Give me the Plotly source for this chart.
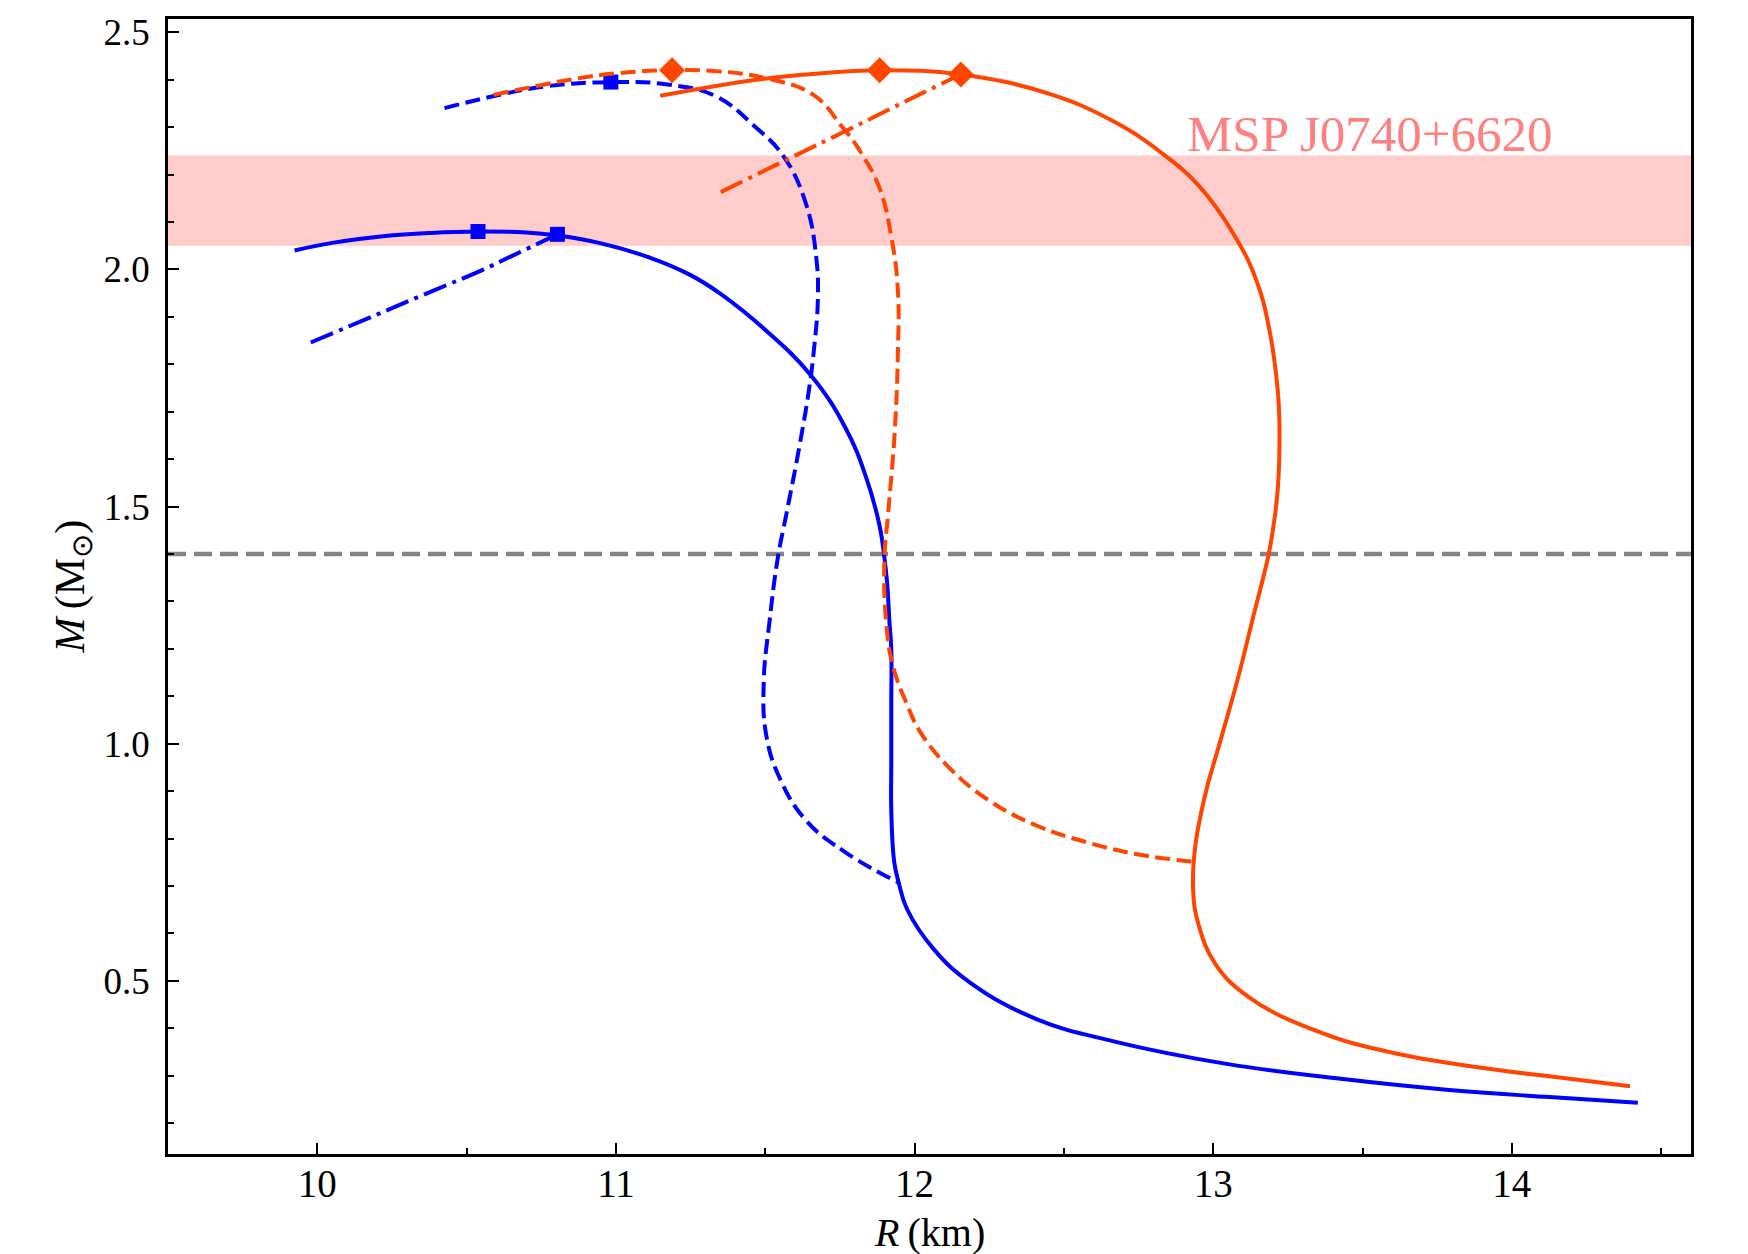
import plotly.graph_objects as go

# ---------------- data: mass-radius sequences (R in km, M in solar masses) ----------------
# blue family
blue_solid_R = [9.924, 10.05, 10.22, 10.38, 10.538, 10.70, 10.80, 10.95, 11.113, 11.25, 11.347,
                11.492, 11.654, 11.771, 11.838, 11.883, 11.899, 11.908, 11.916, 11.922, 11.922,
                11.922, 11.922, 11.932, 11.947, 11.975, 12.064, 12.187, 12.41, 12.67,
                13.045, 13.42, 13.79, 14.126, 14.422]
blue_solid_M = [2.040, 2.056, 2.070, 2.077, 2.080, 2.078, 2.072, 2.055, 2.025, 1.988, 1.950,
                1.877, 1.776, 1.663, 1.561, 1.459, 1.392, 1.340, 1.256, 1.200, 1.087,
                0.960, 0.860, 0.750, 0.707, 0.651, 0.567, 0.496, 0.419, 0.372,
                0.325, 0.294, 0.270, 0.255, 0.243]

blue_dash_R = [10.426, 10.588, 10.766, 10.983, 11.172, 11.335, 11.464, 11.562, 11.637, 11.671,
               11.676, 11.665, 11.648, 11.615, 11.570, 11.542, 11.514, 11.495, 11.503, 11.548,
               11.637, 11.771, 11.947]
blue_dash_M = [2.340, 2.365, 2.386, 2.395, 2.390, 2.365, 2.302, 2.238, 2.137, 2.024,
               1.934, 1.843, 1.753, 1.629, 1.482, 1.392, 1.256, 1.132, 1.019, 0.928,
               0.838, 0.770, 0.707]

blue_dashdot_R = [9.978, 10.20, 10.391, 10.55, 10.647, 10.804]
blue_dashdot_M = [1.846, 1.905, 1.956, 1.998, 2.027, 2.074]

# maximum-mass configurations (blue family)
blue_max_R = [10.538, 10.804, 10.983]
blue_max_M = [2.080, 2.074, 2.395]

# orange family
orange_solid_R = [11.148, 11.497, 11.70, 11.883, 12.155, 12.452, 12.675, 12.843, 12.954, 13.066,
                  13.144, 13.188, 13.216, 13.222, 13.216, 13.200, 13.183, 13.135, 13.079, 13.000,
                  12.978, 12.940, 12.933, 12.951, 13.007, 13.119, 13.343, 13.604, 13.978, 14.126,
                  14.396]
orange_solid_M = [2.366, 2.402, 2.414, 2.420, 2.411, 2.370, 2.309, 2.238, 2.175, 2.077,
                  1.978, 1.873, 1.746, 1.662, 1.535, 1.451, 1.391, 1.270, 1.129, 0.954,
                  0.905, 0.784, 0.689, 0.619, 0.536, 0.466, 0.395, 0.348, 0.310, 0.299,
                  0.278]

orange_dash_R = [10.59, 10.847, 11.010, 11.188, 11.335, 11.497, 11.659, 11.756, 11.821, 11.883,
                 11.922, 11.944, 11.944, 11.933, 11.911, 11.899, 11.905, 11.927, 11.972, 12.020,
                 12.109, 12.243, 12.410, 12.578, 12.745, 12.938]
orange_dash_M = [2.368, 2.400, 2.414, 2.420, 2.418, 2.404, 2.369, 2.302, 2.246, 2.171,
                 2.069, 1.957, 1.821, 1.652, 1.482, 1.392, 1.256, 1.165, 1.087, 1.024,
                 0.954, 0.883, 0.827, 0.792, 0.767, 0.751]

orange_dashdot_R = [11.351, 11.60, 11.776, 12.017, 12.155]
orange_dashdot_M = [2.163, 2.240, 2.294, 2.369, 2.411]

# maximum-mass configurations (orange family)
orange_max_R = [11.188, 11.883, 12.155]
orange_max_M = [2.420, 2.420, 2.411]

# observational constraint and reference mass
psr_label = "MSP J0740+6620"
psr_mass_band = [2.05, 2.24]
canonical_mass = 1.4

x_ticks = [10, 11, 12, 13, 14]
y_ticks = [0.5, 1.0, 1.5, 2.0, 2.5]

# ---------------- styling ----------------
BLUE = "#0000ff"
ORANGE = "#ff4500"
LW = 4
DASH = "15px,6.5px"
DASHDOT = "24px,6.5px,4px,6.5px"
FONT = "Liberation Serif, Times New Roman, serif"

fig = go.Figure()


def add_curve(xs, ys, color, dash):
    fig.add_trace(go.Scatter(
        x=xs, y=ys, mode="lines",
        line=dict(color=color, width=LW, dash=dash, shape="spline", smoothing=1.2),
        showlegend=False, hoverinfo="skip",
    ))


add_curve(blue_solid_R, blue_solid_M, BLUE, "solid")
add_curve(blue_dash_R, blue_dash_M, BLUE, DASH)
add_curve(blue_dashdot_R, blue_dashdot_M, BLUE, DASHDOT)
fig.add_trace(go.Scatter(
    x=blue_max_R, y=blue_max_M, mode="markers",
    marker=dict(symbol="square", size=15, color=BLUE, line=dict(width=0)),
    showlegend=False, hoverinfo="skip",
))

add_curve(orange_solid_R, orange_solid_M, ORANGE, "solid")
add_curve(orange_dash_R, orange_dash_M, ORANGE, DASH)
add_curve(orange_dashdot_R, orange_dashdot_M, ORANGE, DASHDOT)
fig.add_trace(go.Scatter(
    x=orange_max_R, y=orange_max_M, mode="markers",
    marker=dict(symbol="diamond", size=20, color=ORANGE, line=dict(width=0)),
    showlegend=False, hoverinfo="skip",
))

# pulsar mass band and 1.4 Msun reference line
fig.add_shape(type="rect", xref="paper", x0=0, x1=1, yref="y",
              y0=psr_mass_band[0], y1=psr_mass_band[1],
              fillcolor="rgba(255,0,0,0.2)", line=dict(width=0), layer="below")
fig.add_shape(type="line", xref="paper", x0=0, x1=1, yref="y",
              y0=canonical_mass, y1=canonical_mass,
              line=dict(color="#858585", width=4.5, dash="18px,8px"), layer="below")

fig.add_annotation(x=12.904, y=2.222, xref="x", yref="y", text=psr_label,
                   showarrow=False, xanchor="left", yanchor="bottom",
                   font=dict(family=FONT, size=51, color="#ff8080"))

# axis titles
fig.add_annotation(x=0.5, y=-0.069, xref="paper", yref="paper",
                   text="<i>R</i>\u2009(km)", showarrow=False,
                   xanchor="center", yanchor="middle",
                   font=dict(family=FONT, size=40, color="black"))
fig.add_annotation(x=-0.063, y=0.5, xref="paper", yref="paper",
                   text="<i>M</i>\u2009(M<sub>\u2299</sub>)", showarrow=False,
                   textangle=-90, xanchor="center", yanchor="middle",
                   font=dict(family=FONT, size=42, color="black"))

axis_common = dict(
    showline=True, linecolor="black", linewidth=2.5, mirror=True,
    ticks="inside", ticklen=11, tickwidth=2, tickcolor="black",
    showgrid=False, zeroline=False,
)

fig.update_xaxes(range=[9.5, 14.6], tickvals=x_ticks, ticktext=[str(v) for v in x_ticks],
                 minor=dict(ticks="inside", ticklen=6.5, tickwidth=1.6, tickcolor="black",
                            dtick=0.5, tick0=10, showgrid=False),
                 tickfont=dict(family=FONT, size=39, color="black"),
                 ticklabelstandoff=-7, **axis_common)
fig.update_yaxes(range=[0.135, 2.528], tickvals=y_ticks, ticktext=[f"{v:.1f}" for v in y_ticks],
                 minor=dict(ticks="inside", ticklen=6.5, tickwidth=1.6, tickcolor="black",
                            dtick=0.1, tick0=0, showgrid=False),
                 tickfont=dict(family=FONT, size=37, color="black"),
                 ticklabelstandoff=8, **axis_common)

fig.update_layout(
    width=1748, height=1254,
    margin=dict(l=168, r=57, t=19, b=100),
    paper_bgcolor="white", plot_bgcolor="white",
    showlegend=False,
)

fig.write_html("out.html")
